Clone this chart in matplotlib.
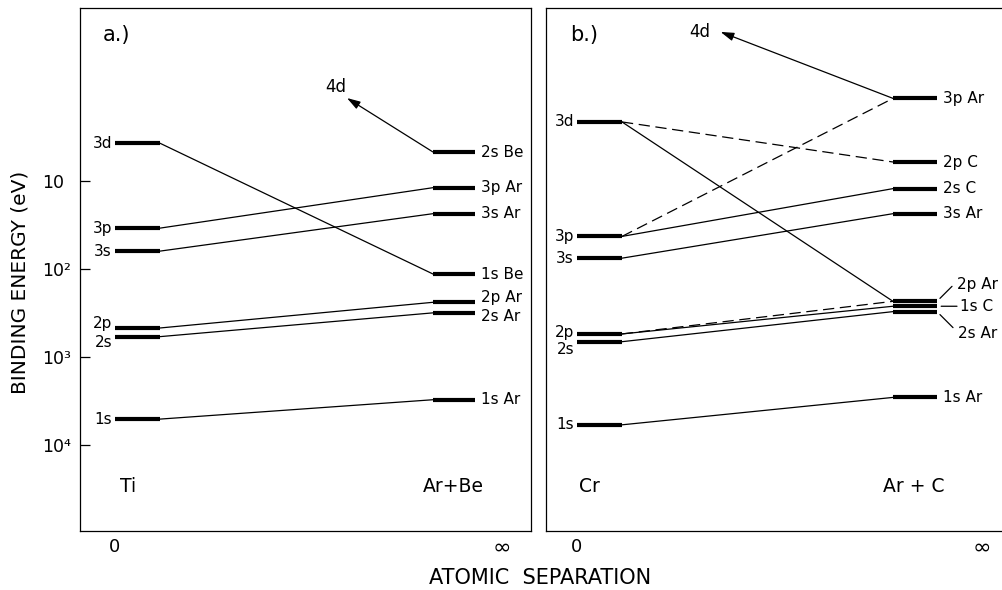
import matplotlib
matplotlib.use("Agg")
import matplotlib.pyplot as plt

# ---------------- data (binding energies in eV) ----------------
a_left_labels = ["3d", "3p", "3s", "2p", "2s", "1s"]
a_left_energy = [3.72, 34.3, 62.6, 468, 587, 5080]
a_right_labels = ["2s Be", "3p Ar", "3s Ar", "1s Be", "2p Ar", "2s Ar", "1s Ar"]
a_right_energy = [4.68, 11.9, 23.5, 114, 239, 315, 3060]
a_links = [("3d", "1s Be", "solid"), ("3p", "3p Ar", "solid"), ("3s", "3s Ar", "solid"),
           ("2p", "2p Ar", "solid"), ("2s", "2s Ar", "solid"), ("1s", "1s Ar", "solid")]
a_arrow_target = "2s Be"
a_arrow_tip = (0.592, 1.14)     # (separation fraction, eV)
a_left_name, a_right_name = "Ti", "Ar+Be"

b_left_labels = ["3d", "3p", "3s", "2p", "2s", "1s"]
b_left_energy = [2.13, 42.6, 75.3, 547, 670, 5900]
b_right_labels = ["3p Ar", "2p C", "2s C", "3s Ar", "2p Ar", "1s C", "2s Ar", "1s Ar"]
b_right_energy = [1.15, 6.08, 12.2, 23.5, 233, 265, 305, 2880]
b_links = [("3d", "2p Ar", "solid"), ("3d", "2p C", "dashed"), ("3p", "3p Ar", "dashed"),
           ("3p", "2s C", "solid"), ("3s", "3s Ar", "solid"), ("2p", "2p Ar", "dashed"),
           ("2p", "1s C", "solid"), ("2s", "2s Ar", "solid"), ("1s", "1s Ar", "solid")]
b_arrow_target = "3p Ar"
b_arrow_tip = (0.382, 0.202)
b_left_name, b_right_name = "Cr", "Ar + C"

y_ticks = [10, 100, 1000, 10000]
y_tick_labels = ["10", "10²", "10³", "10⁴"]
x_tick_labels = ["0", "∞"]

# ---------------- figure ----------------
plt.rcParams["font.family"] = ["DejaVu Sans"]
fig = plt.figure(figsize=(10.02, 5.90), dpi=100)

W, H = 1002, 590
top_px, bot_px = 8, 531
YLIM = (9.5e4, 0.108)


def make_axes(left_px, right_px):
    return fig.add_axes([left_px / W, 1 - bot_px / H, (right_px - left_px) / W,
                         (bot_px - top_px) / H])


LEVEL_LW = 3.0
LINK_LW = 0.9
DASH = (9, 4.5)


def draw_panel(ax, L, R, l_labels, l_en, r_labels, r_en, links, arrow_target, arrow_tip,
               arrow_lab_off, tag, left_name, right_name, xticks, l_dy, r_dy, special=None):
    ax.set_yscale("log")
    ax.set_ylim(*YLIM)
    ax.set_xlim(0, 1)
    for sp in ax.spines.values():
        sp.set_linewidth(0.9)
    le = dict(zip(l_labels, l_en))
    re_ = dict(zip(r_labels, r_en))
    # levels
    for lab, e in le.items():
        ax.plot(L, [e, e], color="black", lw=LEVEL_LW, solid_capstyle="butt")
        ax.annotate(lab, xy=(L[0], e), xytext=(-3, l_dy.get(lab, 0)),
                    textcoords="offset pixels", ha="right", va="center", fontsize=11)
    for lab, e in re_.items():
        ax.plot(R, [e, e], color="black", lw=LEVEL_LW, solid_capstyle="butt")
        if special and lab in special:
            continue
        ax.annotate(lab, xy=(R[1], e), xytext=(6, r_dy.get(lab, 0)),
                    textcoords="offset pixels", ha="left", va="center", fontsize=11)
    # correlation lines
    for a, b, style in links:
        kw = dict(color="black", lw=LINK_LW)
        if style == "dashed":
            kw["dashes"] = DASH
        ax.plot([L[1], R[0]], [le[a], re_[b]], **kw)
    # 4d arrow
    ax.annotate("", xy=arrow_tip, xytext=(R[0], re_[arrow_target]),
                arrowprops=dict(arrowstyle="-|>,head_length=0.8,head_width=0.25",
                                lw=LINK_LW, color="black", shrinkA=0, shrinkB=0))
    ax.annotate("4d", xy=arrow_tip, xytext=arrow_lab_off, textcoords="offset pixels",
                ha="right", va="center", fontsize=12)
    # panel tag and system names
    ax.text(tag[1], 1 - (35 - top_px) / (bot_px - top_px), tag[0], transform=ax.transAxes,
            ha="left", va="center", fontsize=15)
    yname = (bot_px - 487) / (bot_px - top_px)
    ax.text(xticks[0] + 0.028, yname, left_name, transform=ax.transAxes,
            ha="center", va="center", fontsize=13.5)
    ax.text(R[0] + 0.046, yname, right_name, transform=ax.transAxes,
            ha="center", va="center", fontsize=13.5)
    ax.set_xticks(xticks, labels=x_tick_labels)
    ax.tick_params(axis="x", length=0, pad=5)
    labs = ax.get_xticklabels()
    labs[0].set_fontsize(13)
    labs[1].set_fontsize(16)
    ax.minorticks_off()


# panel a
axa = make_axes(80, 531)
wa = 451
La = ((115 - 80) / wa, (160 - 80) / wa)
Ra = ((433 - 80) / wa, (475 - 80) / wa)
draw_panel(axa, La, Ra, a_left_labels, a_left_energy, a_right_labels, a_right_energy,
           a_links, a_arrow_target, a_arrow_tip, (-1, 11), ("a.)", (103 - 80) / wa),
           a_left_name, a_right_name, [(115 - 80) / wa, (502 - 80) / wa],
           l_dy={"2p": 4, "2s": -6}, r_dy={"2p Ar": 5, "2s Ar": -4})
axa.set_yticks(y_ticks, labels=y_tick_labels)
axa.tick_params(axis="y", which="major", direction="in", length=7.5, width=0.9,
                pad=27, labelsize=12.5)
for t in axa.get_yticklabels():
    t.set_ha("left")
axa.tick_params(axis="y", which="minor", length=0)

# panel b
axb = make_axes(546, 1003)
wb = 457
Lb = ((577 - 546) / wb, (622 - 546) / wb)
Rb = ((893 - 546) / wb, (937 - 546) / wb)
special = ["2p Ar", "1s C", "2s Ar"]
draw_panel(axb, Lb, Rb, b_left_labels, b_left_energy, b_right_labels, b_right_energy,
           b_links, b_arrow_target, b_arrow_tip, (-10, 0), ("b.)", (570 - 546) / wb),
           b_left_name, b_right_name, [(577 - 546) / wb, (982 - 546) / wb],
           l_dy={"2p": 1, "2s": -8}, r_dy={}, special=special)
axb.set_yticks([])
axb.tick_params(axis="y", which="both", length=0)
axb.spines["right"].set_visible(False)
be = dict(zip(b_right_labels, b_right_energy))
leaders = {"2p Ar": ((15, 15), (20, 17)), "1s C": ((20, 0), (23, 0)),
           "2s Ar": ((16, -16), (21, -22))}
for lab in special:
    (lx, ly), (tx, ty) = leaders[lab]
    axb.annotate("", xy=(Rb[1], be[lab]), xytext=(lx, ly), textcoords="offset pixels",
                 arrowprops=dict(arrowstyle="-", lw=LINK_LW, color="black",
                                 shrinkA=0, shrinkB=3))
    axb.annotate(lab, xy=(Rb[1], be[lab]), xytext=(tx, ty), textcoords="offset pixels",
                 ha="left", va="center", fontsize=11)

fig.text(20 / W, 1 - 282 / H, "BINDING ENERGY (eV)", rotation=90, ha="center",
         va="center", fontsize=14.5)
fig.text(540 / W, 1 - 578 / H, "ATOMIC  SEPARATION", ha="center", va="center",
         fontsize=15)

fig.savefig("out.png", dpi=100)
